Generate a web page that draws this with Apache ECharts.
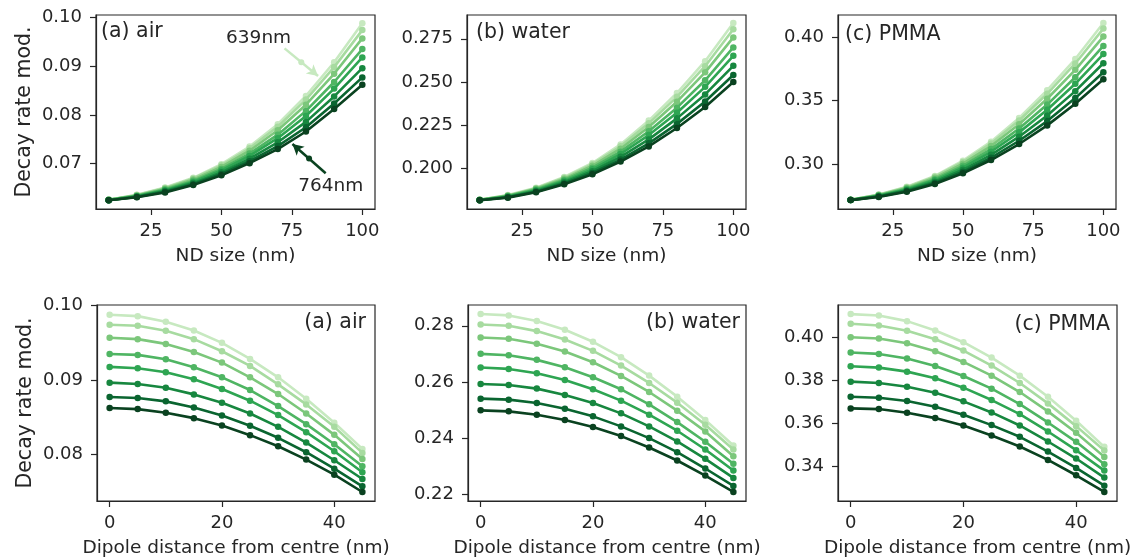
<!DOCTYPE html>
<html>
<head>
<meta charset="utf-8">
<script src="https://cdn.jsdelivr.net/npm/echarts@6/dist/echarts.min.js"></script>
<style>
html,body{margin:0;padding:0;background:#fff;}
#chart{width:1137px;height:559px;}
</style>
</head>
<body>
<div id="chart"></div>
<script>
// ---------------- DATA ----------------
const topX = [10, 20, 30, 40, 50, 60, 70, 80, 90, 100];
const botX = [0, 5, 10, 15, 20, 25, 30, 35, 40, 45];

// series ordered 639nm (lightest) ... 764nm (darkest)
const topAir = [
  [0.0626, 0.0636, 0.0651, 0.0671, 0.0699, 0.0735, 0.0781, 0.0839, 0.0908, 0.0988],
  [0.0626, 0.06355, 0.0650, 0.06695, 0.06966, 0.07315, 0.07757, 0.08315, 0.08981, 0.0974],
  [0.0626, 0.06348, 0.06485, 0.06673, 0.06933, 0.07266, 0.07685, 0.0821, 0.08844, 0.0957],
  [0.0626, 0.06339, 0.06468, 0.06647, 0.06893, 0.07207, 0.07595, 0.08083, 0.08676, 0.0935],
  [0.0625, 0.06332, 0.06454, 0.06626, 0.06861, 0.07159, 0.07523, 0.07979, 0.0854, 0.0918],
  [0.0625, 0.06324, 0.06437, 0.06601, 0.06822, 0.07102, 0.07438, 0.07857, 0.08379, 0.0896],
  [0.0625, 0.06316, 0.06422, 0.06578, 0.06787, 0.0705, 0.07361, 0.07747, 0.08234, 0.0877],
  [0.0625, 0.0631, 0.0641, 0.0656, 0.0676, 0.0701, 0.0730, 0.0766, 0.0812, 0.0862]
];
const topWater = [
  [0.1815, 0.1843, 0.1886, 0.1948, 0.2029, 0.2137, 0.2275, 0.2435, 0.2620, 0.2842],
  [0.1815, 0.1841, 0.1883, 0.1943, 0.2022, 0.2126, 0.2259, 0.2413, 0.2591, 0.2805],
  [0.1815, 0.1839, 0.1879, 0.1937, 0.2013, 0.2112, 0.2238, 0.2385, 0.2555, 0.2758],
  [0.1814, 0.1837, 0.1875, 0.1930, 0.2002, 0.2095, 0.2213, 0.2350, 0.2509, 0.2700],
  [0.1814, 0.1835, 0.1871, 0.1924, 0.1992, 0.2081, 0.2191, 0.2321, 0.2471, 0.2651],
  [0.1813, 0.1832, 0.1866, 0.1917, 0.1981, 0.2065, 0.2166, 0.2288, 0.2427, 0.2593],
  [0.1813, 0.1830, 0.1862, 0.1910, 0.1971, 0.2049, 0.2143, 0.2256, 0.2386, 0.2540],
  [0.1813, 0.1828, 0.1859, 0.1905, 0.1963, 0.2037, 0.2125, 0.2232, 0.2354, 0.2499]
];
const topPmma = [
  [0.2716, 0.2759, 0.2819, 0.2905, 0.3025, 0.3175, 0.3362, 0.3580, 0.3826, 0.4110],
  [0.2716, 0.2757, 0.2815, 0.2899, 0.3015, 0.3161, 0.3341, 0.3552, 0.3791, 0.4066],
  [0.2716, 0.2754, 0.2810, 0.2890, 0.3001, 0.3140, 0.3312, 0.3513, 0.3741, 0.4003],
  [0.2715, 0.2751, 0.2803, 0.2879, 0.2984, 0.3116, 0.3278, 0.3467, 0.3682, 0.3929],
  [0.2715, 0.2748, 0.2797, 0.2870, 0.2970, 0.3095, 0.3248, 0.3426, 0.3631, 0.3865],
  [0.2714, 0.2745, 0.2791, 0.2859, 0.2953, 0.3071, 0.3214, 0.3381, 0.3573, 0.3793],
  [0.2714, 0.2742, 0.2785, 0.2849, 0.2937, 0.3048, 0.3182, 0.3337, 0.3518, 0.3722],
  [0.2714, 0.2739, 0.2780, 0.2841, 0.2925, 0.3030, 0.3156, 0.3303, 0.3474, 0.3667]
];
const botAir = [
  [0.09878, 0.0986, 0.09784, 0.09667, 0.0950, 0.09284, 0.09036, 0.08748, 0.08423, 0.08072],
  [0.09743, 0.0973, 0.09662, 0.0955, 0.09387, 0.09189, 0.08941, 0.08671, 0.08369, 0.08018],
  [0.09568, 0.0955, 0.09486, 0.09378, 0.09234, 0.09036, 0.08811, 0.08549, 0.08261, 0.07937],
  [0.09351, 0.09338, 0.09279, 0.09171, 0.09036, 0.08865, 0.08649, 0.08405, 0.08135, 0.07838],
  [0.09176, 0.09158, 0.09104, 0.09009, 0.08878, 0.08721, 0.08527, 0.08297, 0.0804, 0.07757],
  [0.08964, 0.08946, 0.08896, 0.08806, 0.08694, 0.08549, 0.08369, 0.08157, 0.07919, 0.07666],
  [0.0877, 0.08757, 0.08712, 0.0863, 0.08522, 0.08383, 0.08221, 0.08027, 0.07806, 0.07567],
  [0.08622, 0.08608, 0.08559, 0.08486, 0.08387, 0.08257, 0.08108, 0.07928, 0.07725, 0.07491]
];
const botWater = [
  [0.28417, 0.28369, 0.28167, 0.27857, 0.27429, 0.26881, 0.26226, 0.25476, 0.24643, 0.23738],
  [0.28048, 0.2800, 0.2781, 0.27512, 0.27107, 0.26583, 0.25964, 0.25262, 0.24476, 0.23595],
  [0.27583, 0.27536, 0.27357, 0.27083, 0.26702, 0.26214, 0.25643, 0.24976, 0.24238, 0.23357],
  [0.2700, 0.26952, 0.26786, 0.26524, 0.26167, 0.25738, 0.25202, 0.24571, 0.23869, 0.23083],
  [0.26512, 0.26464, 0.2631, 0.26071, 0.25738, 0.25333, 0.24833, 0.24262, 0.23595, 0.22845],
  [0.25929, 0.25893, 0.25762, 0.25536, 0.2525, 0.24881, 0.24417, 0.23881, 0.23262, 0.22583],
  [0.25405, 0.25369, 0.2525, 0.25048, 0.24774, 0.24417, 0.2400, 0.2350, 0.22917, 0.22298],
  [0.24988, 0.24952, 0.24833, 0.24643, 0.24393, 0.24071, 0.23667, 0.23202, 0.22667, 0.22083]
];
const botPmma = [
  [0.41094, 0.41031, 0.40766, 0.40328, 0.39781, 0.39063, 0.38219, 0.37234, 0.36109, 0.34891],
  [0.40641, 0.40563, 0.40313, 0.39922, 0.39391, 0.38688, 0.37875, 0.36922, 0.35859, 0.34719],
  [0.40016, 0.39953, 0.39734, 0.39359, 0.38859, 0.38219, 0.37453, 0.36547, 0.35547, 0.34422],
  [0.39297, 0.39234, 0.39016, 0.38672, 0.38203, 0.37609, 0.36891, 0.36031, 0.35125, 0.34078],
  [0.38656, 0.38594, 0.38406, 0.38094, 0.37656, 0.37078, 0.36422, 0.35609, 0.34734, 0.33781],
  [0.37938, 0.37875, 0.37703, 0.37422, 0.37016, 0.3650, 0.35891, 0.35141, 0.34344, 0.33453],
  [0.37234, 0.37188, 0.37031, 0.36766, 0.36391, 0.35906, 0.3536, 0.34672, 0.33906, 0.33078],
  [0.36688, 0.36656, 0.36484, 0.36234, 0.35891, 0.35422, 0.34906, 0.34281, 0.33563, 0.32781]
];

// tick labels
const topXTicks = [25, 50, 75, 100];
const botXTicks = [0, 20, 40];
const topAirTicks = [0.07, 0.08, 0.09, 0.10];
const topWaterTicks = [0.200, 0.225, 0.250, 0.275];
const topPmmaTicks = [0.30, 0.35, 0.40];
const botAirTicks = [0.08, 0.09, 0.10];
const botWaterTicks = [0.22, 0.24, 0.26, 0.28];
const botPmmaTicks = [0.34, 0.36, 0.38, 0.40];

const panelNames = ['(a) air', '(b) water', '(c) PMMA', '(a) air', '(b) water', '(c) PMMA'];
const annoLabels = ['639nm', '764nm'];
// annotation arrows in data coordinates of panel (a) top: [tail, head], dot at middle
const arrow639 = [[72.4, 0.09365], [84.3, 0.0880]];
const arrow764 = [[87.0, 0.06803], [75.2, 0.07404]];
const text639 = [63.2, 0.09576];
const text764 = [88.8, 0.06543];

// ---------------- STYLE / LAYOUT ----------------
const colors = ['#c7e9c0', '#a7dba0', '#7cc77b', '#4fb563', '#2ea552', '#17873f', '#0a6530', '#0a4220'];
const FONT = 'DejaVu Sans';
const INK = '#262626';
const grids = [
  {left: 96, top: 15, width: 279, height: 194},
  {left: 467, top: 15, width: 279, height: 194},
  {left: 838, top: 15, width: 278, height: 194},
  {left: 97, top: 305, width: 278, height: 196},
  {left: 468, top: 305, width: 278, height: 196},
  {left: 838, top: 305, width: 279, height: 196}
];
const yRanges = [[0.0607, 0.1005], [0.1762, 0.2888], [0.2644, 0.4173], [0.0737, 0.1001], [0.2176, 0.2874], [0.3236, 0.4152]];
const xRanges = [[5.5, 104.5], [5.5, 104.5], [5.5, 104.5], [-2.25, 47.25], [-2.25, 47.25], [-2.25, 47.25]];
const panels = [
  {vals: topAir, xs: topX, yt: topAirTicks, xt: topXTicks, dec: 2},
  {vals: topWater, xs: topX, yt: topWaterTicks, xt: topXTicks, dec: 3},
  {vals: topPmma, xs: topX, yt: topPmmaTicks, xt: topXTicks, dec: 2},
  {vals: botAir, xs: botX, yt: botAirTicks, xt: botXTicks, dec: 2},
  {vals: botWater, xs: botX, yt: botWaterTicks, xt: botXTicks, dec: 2},
  {vals: botPmma, xs: botX, yt: botPmmaTicks, xt: botXTicks, dec: 2}
];
const labelPos = [
  {x: 101, y: 32, align: 'left'},
  {x: 476, y: 33, align: 'left'},
  {x: 845, y: 35, align: 'left'},
  {x: 366, y: 323, align: 'right'},
  {x: 740, y: 323, align: 'right'},
  {x: 1110, y: 325, align: 'right'}
];

const gridOpt = [], xAxes = [], yAxes = [], series = [];
panels.forEach((p, i) => {
  gridOpt.push(Object.assign({show: true, borderColor: INK, borderWidth: 1.2, backgroundColor: 'transparent',
    outerBoundsMode: 'none', containLabel: false}, grids[i]));
  const axisCommon = {
    axisLine: {show: true, onZero: false, lineStyle: {color: INK, width: 1.2}},
    splitLine: {show: false},
    axisTick: {show: true, inside: false, length: 6, lineStyle: {color: INK, width: 1.2}},
    axisLabel: {color: INK, fontFamily: FONT, fontSize: 18}
  };
  xAxes.push({
    type: 'value', gridIndex: i, min: xRanges[i][0], max: xRanges[i][1],
    axisLine: axisCommon.axisLine, splitLine: axisCommon.splitLine,
    axisTick: Object.assign({}, axisCommon.axisTick, {customValues: p.xt}),
    axisLabel: Object.assign({}, axisCommon.axisLabel, {customValues: p.xt, margin: 13, formatter: v => String(Math.round(v))}),
    name: i < 3 ? 'ND size (nm)' : 'Dipole distance from centre (nm)',
    nameLocation: 'middle', nameGap: 38,
    nameTextStyle: {color: INK, fontFamily: FONT, fontSize: 18.5}
  });
  yAxes.push({
    type: 'value', gridIndex: i, min: yRanges[i][0], max: yRanges[i][1],
    axisLine: axisCommon.axisLine, splitLine: axisCommon.splitLine,
    axisTick: Object.assign({}, axisCommon.axisTick, {customValues: p.yt}),
    axisLabel: Object.assign({}, axisCommon.axisLabel, {customValues: p.yt, margin: 14, formatter: v => v.toFixed(p.dec)}),
    name: (i === 0 || i === 3) ? 'Decay rate mod.' : '',
    nameLocation: 'middle', nameGap: 61,
    nameTextStyle: {color: INK, fontFamily: FONT, fontSize: 20.5}
  });
  p.vals.forEach((vals, k) => {
    series.push({
      type: 'line', xAxisIndex: i, yAxisIndex: i,
      data: p.xs.map((x, j) => [x, vals[j]]),
      symbol: 'circle', symbolSize: 6.5, showSymbol: true,
      color: colors[k],
      lineStyle: {width: 2.6, color: colors[k]},
      itemStyle: {color: colors[k]},
      emphasis: {disabled: true},
      animation: false, silent: true, z: 2 + k
    });
  });
});

// annotation series (arrows in data coordinates of panel 0)
function annoSeries(arrow, text, label, color) {
  const mid = [(arrow[0][0] + arrow[1][0]) / 2, (arrow[0][1] + arrow[1][1]) / 2];
  return {
    type: 'line', xAxisIndex: 0, yAxisIndex: 0, data: [], silent: true, animation: false, z: 20,
    markLine: {
      silent: true, animation: false, symbol: ['none', 'arrow'], symbolSize: [9, 11],
      label: {show: false},
      lineStyle: {color: color, width: 2.5, type: 'solid'},
      data: [[{coord: arrow[0]}, {coord: arrow[1]}]]
    },
    markPoint: {
      silent: true, animation: false,
      data: [
        {coord: mid, symbol: 'circle', symbolSize: 6, itemStyle: {color: color}, label: {show: false}},
        {coord: text, symbol: 'circle', symbolSize: 0,
         label: {show: true, position: 'inside', formatter: label, color: INK, fontFamily: FONT, fontSize: 18.5}}
      ]
    }
  };
}
series.push(annoSeries(arrow639, text639, annoLabels[0], colors[0]));
series.push(annoSeries(arrow764, text764, annoLabels[1], colors[7]));

const graphics = panelNames.map((t, i) => ({
  type: 'text', x: labelPos[i].x, y: labelPos[i].y, z: 30,
  style: {text: t, fill: INK, font: '20.5px "' + FONT + '"', align: labelPos[i].align, verticalAlign: 'middle'}
}));

const chart = echarts.init(document.getElementById('chart'), null, {renderer: 'canvas'});
chart.setOption({
  animation: false,
  backgroundColor: '#ffffff',
  grid: gridOpt,
  xAxis: xAxes,
  yAxis: yAxes,
  series: series,
  graphic: graphics
});
</script>
</body>
</html>
